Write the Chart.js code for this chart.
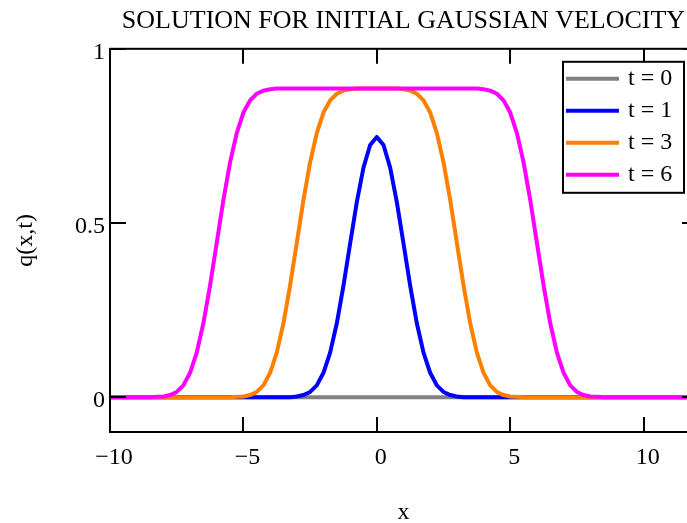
<!DOCTYPE html>
<html>
<head>
<meta charset="utf-8">
<script src="https://cdn.jsdelivr.net/npm/chart.js@4.4.1/dist/chart.umd.min.js"></script>
<style>
  html, body { margin: 0; padding: 0; background: #fff; overflow: hidden; width: 687px; height: 523px; }
  #wrap { position: absolute; left: 0; top: 0; width: 720px; height: 523px; }
</style>
</head>
<body>
<div id="wrap"><canvas id="c" width="720" height="523"></canvas></div>
<script>
// ---- data ----
const chartTitle = 'SOLUTION FOR INITIAL GAUSSIAN VELOCITY';
const seriesLabels = ['t = 0', 't = 1', 't = 3', 't = 6'];
const seriesColors = ['#808080', '#0000FF', '#FF8000', '#FF00FF'];
const xTicks = [-10, -5, 0, 5, 10];
const yTicks = [0, 0.5, 1];

const xs = [-10,
  -9, -8.75, -8.5, -8.25, -8, -7.75, -7.5, -7.25, -7, -6.75, -6.5, -6.25,
  -6, -5.75, -5.5, -5.25, -5, -4.75, -4.5, -4.25, -4, -3.75, -3.5, -3.25,
  -3, -2.75, -2.5, -2.25, -2, -1.75, -1.5, -1.25, -1, -0.75, -0.5, -0.25,
  0,
  0.25, 0.5, 0.75, 1, 1.25, 1.5, 1.75, 2, 2.25, 2.5, 2.75, 3,
  3.25, 3.5, 3.75, 4, 4.25, 4.5, 4.75, 5, 5.25, 5.5, 5.75, 6,
  6.25, 6.5, 6.75, 7, 7.25, 7.5, 7.75, 8, 8.25, 8.5, 8.75, 9,
  12];

const q0 = [0,
  0, 0, 0, 0, 0, 0, 0, 0, 0, 0, 0, 0,
  0, 0, 0, 0, 0, 0, 0, 0, 0, 0, 0, 0,
  0, 0, 0, 0, 0, 0, 0, 0, 0, 0, 0, 0,
  0,
  0, 0, 0, 0, 0, 0, 0, 0, 0, 0, 0, 0,
  0, 0, 0, 0, 0, 0, 0, 0, 0, 0, 0, 0,
  0, 0, 0, 0, 0, 0, 0, 0, 0, 0, 0, 0,
  0];

const q1 = [0,
  0, 0, 0, 0, 0, 0, 0, 0, 0, 0, 0, 0,
  0, 0, 0, 0, 0, 0, 0, 0, 0, 0, 0, 0,
  0.002, 0.006, 0.015, 0.034, 0.070, 0.128, 0.212, 0.320, 0.441, 0.560, 0.659, 0.724,
  0.747,
  0.724, 0.659, 0.560, 0.441, 0.320, 0.212, 0.128, 0.070, 0.034, 0.015, 0.006, 0.002,
  0, 0, 0, 0, 0, 0, 0, 0, 0, 0, 0, 0,
  0, 0, 0, 0, 0, 0, 0, 0, 0, 0, 0, 0,
  0];

const q3 = [0,
  0, 0, 0, 0, 0, 0, 0, 0, 0, 0, 0, 0,
  0, 0, 0, 0.001, 0.002, 0.006, 0.015, 0.034, 0.070, 0.128, 0.212, 0.321,
  0.443, 0.566, 0.674, 0.758, 0.817, 0.852, 0.871, 0.880, 0.884, 0.886, 0.886, 0.886,
  0.886,
  0.886, 0.886, 0.886, 0.884, 0.880, 0.871, 0.852, 0.817, 0.758, 0.674, 0.566, 0.443,
  0.321, 0.212, 0.128, 0.070, 0.034, 0.015, 0.006, 0.002, 0.001, 0, 0, 0,
  0, 0, 0, 0, 0, 0, 0, 0, 0, 0, 0, 0,
  0];

const q6 = [0,
  0, 0, 0, 0.001, 0.002, 0.006, 0.015, 0.034, 0.070, 0.128, 0.212, 0.321,
  0.443, 0.566, 0.674, 0.758, 0.817, 0.852, 0.871, 0.880, 0.884, 0.886, 0.886, 0.886,
  0.886, 0.886, 0.886, 0.886, 0.886, 0.886, 0.886, 0.886, 0.886, 0.886, 0.886, 0.886,
  0.886,
  0.886, 0.886, 0.886, 0.886, 0.886, 0.886, 0.886, 0.886, 0.886, 0.886, 0.886, 0.886,
  0.886, 0.886, 0.886, 0.884, 0.880, 0.871, 0.852, 0.817, 0.758, 0.674, 0.566, 0.443,
  0.321, 0.212, 0.128, 0.070, 0.034, 0.015, 0.006, 0.002, 0.001, 0, 0, 0,
  0];

const seriesValues = [q0, q1, q3, q6];

// ---- chart ----
const FONT = 'Liberation Serif';
Chart.defaults.font.family = FONT;
Chart.defaults.color = '#000';

const datasets = seriesValues.map((vals, i) => ({
  label: seriesLabels[i],
  data: xs.map((x, k) => ({ x: x, y: vals[k] })),
  borderColor: seriesColors[i],
  backgroundColor: seriesColors[i],
  borderWidth: 4,
  pointRadius: 0,
  tension: 0,
  fill: false,
  borderJoinStyle: 'round',
  order: seriesValues.length - 1 - i
}));

const frameTicks = {
  id: 'frameTicks',
  afterDatasetsDraw(chart) {
    const { ctx, chartArea: a, scales } = chart;
    ctx.save();
    ctx.strokeStyle = '#000';
    ctx.lineWidth = 2;
    ctx.lineCap = 'butt';
    ctx.strokeRect(a.left, a.top, a.right - a.left, a.bottom - a.top);
    ctx.beginPath();
    xTicks.forEach(v => {
      const p = Math.round(scales.x.getPixelForValue(v));
      ctx.moveTo(p, a.bottom); ctx.lineTo(p, a.bottom - 15);
      ctx.moveTo(p, a.top); ctx.lineTo(p, a.top + 15);
    });
    yTicks.forEach(v => {
      const p = Math.round(scales.y.getPixelForValue(v));
      ctx.moveTo(a.left, p); ctx.lineTo(a.left + 16, p);
      ctx.moveTo(a.right, p); ctx.lineTo(a.right - 15, p);
    });
    ctx.stroke();
    ctx.restore();
  }
};

const boxLegend = {
  id: 'boxLegend',
  afterDatasetsDraw(chart) {
    const { ctx, chartArea: a } = chart;
    const w = 121, h = 131;
    const left = a.right - 13 - w, top = a.top + 13;
    ctx.save();
    ctx.fillStyle = '#fff';
    ctx.fillRect(left, top, w, h);
    ctx.strokeStyle = '#000';
    ctx.lineWidth = 2;
    ctx.strokeRect(left, top, w, h);
    ctx.font = '24px "' + FONT + '"';
    ctx.textBaseline = 'middle';
    ctx.textAlign = 'left';
    chart.data.datasets.forEach((ds, i) => {
      const y = top + 17 + i * 32;
      ctx.strokeStyle = ds.borderColor;
      ctx.lineWidth = 4;
      ctx.lineCap = 'butt';
      ctx.beginPath();
      ctx.moveTo(left + 3, y); ctx.lineTo(left + 56, y);
      ctx.stroke();
      ctx.fillStyle = '#000';
      ctx.fillText(ds.label, left + 65, y);
    });
    ctx.restore();
  }
};

const fmt = v => (v < 0 ? '\u2212' + Math.abs(v) : String(v));

const chart = new Chart(document.getElementById('c'), {
  type: 'line',
  data: { datasets },
  options: {
    responsive: false,
    animation: false,
    devicePixelRatio: 1,
    layout: { padding: { left: 0, right: 23, top: 0, bottom: 0 } },
    plugins: {
      legend: { display: false },
      tooltip: { enabled: false },
      title: {
        display: true,
        text: chartTitle,
        fullSize: false,
        color: '#000',
        font: { family: FONT, size: 26, weight: 'normal' },
        padding: { top: 5.4, bottom: 12.2 }
      }
    },
    scales: {
      x: {
        type: 'linear',
        min: -10,
        max: 12,
        afterBuildTicks: s => { s.ticks = xTicks.map(v => ({ value: v })); },
        afterFit: s => { s.height = 91; },
        grid: { display: false, drawTicks: false },
        border: { display: false },
        ticks: { font: { size: 24 }, color: '#000', padding: 11, labelOffset: 4, maxRotation: 0, callback: fmt },
        title: { display: true, text: 'x', color: '#000', font: { size: 24, lineHeight: 0.84 }, padding: { top: 0, bottom: 0 } }
      },
      y: {
        type: 'linear',
        min: -0.1,
        max: 1,
        afterBuildTicks: s => { s.ticks = yTicks.map(v => ({ value: v })); },
        afterFit: s => { s.width = 110; },
        grid: { display: false, drawTicks: false },
        border: { display: false },
        ticks: { font: { size: 24 }, color: '#000', padding: 5, labelOffset: 4, callback: fmt },
        title: { display: true, text: 'q(x,t)', color: '#000', font: { size: 24 }, padding: { top: 11, bottom: 0 } }
      }
    }
  },
  plugins: [frameTicks, boxLegend]
});
</script>
</body>
</html>
